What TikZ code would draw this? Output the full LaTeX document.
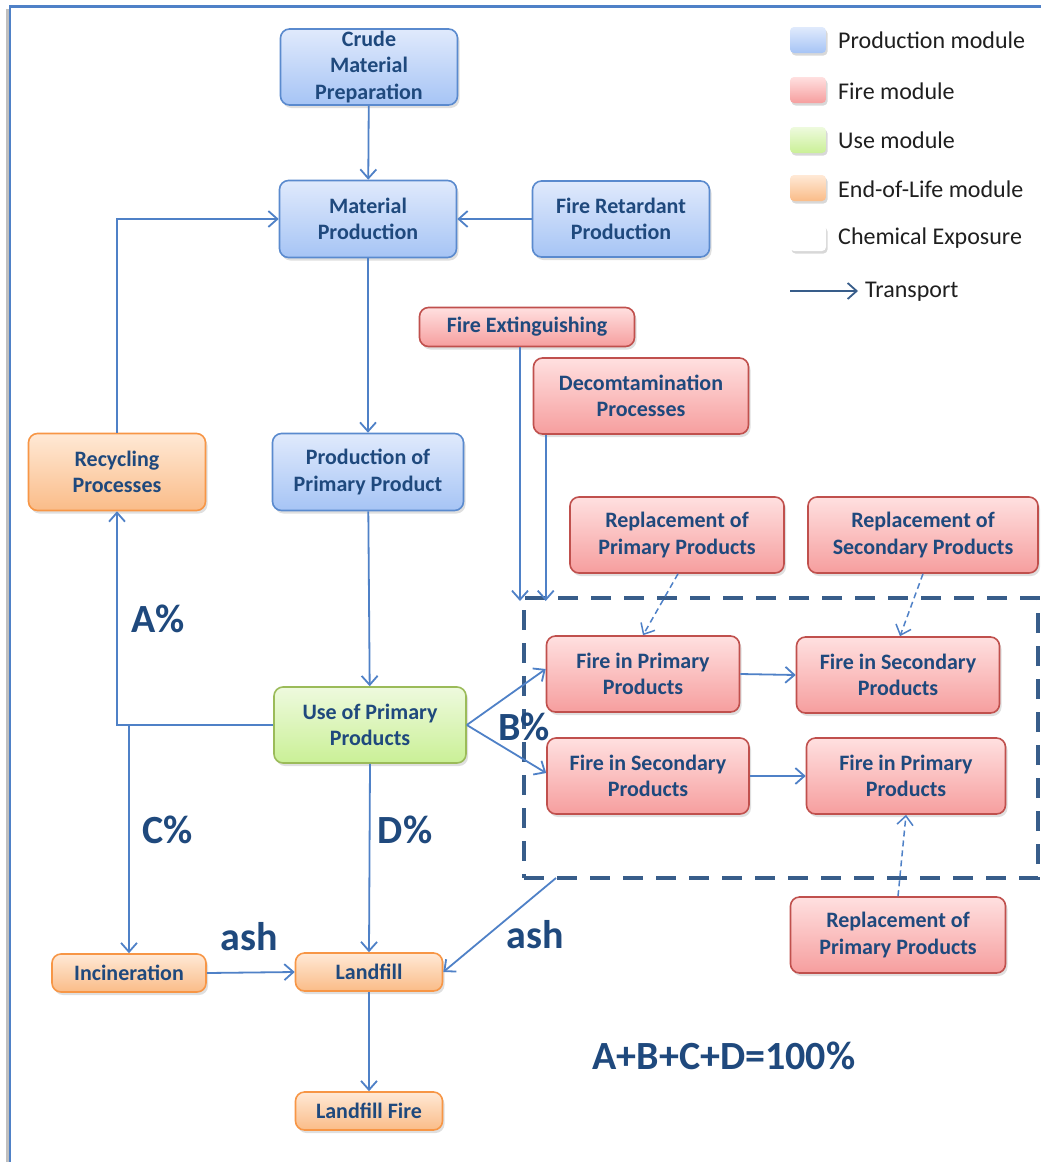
\documentclass[tikz,border=0pt]{standalone}
\usepackage{fontspec}
\setmainfont{Carlito}
\usetikzlibrary{arrows.meta,shadows}
\definecolor{txt}{RGB}{31,73,125}
\definecolor{arrc}{RGB}{79,129,199}
\definecolor{boxc}{RGB}{56,93,138}
\definecolor{prodT}{RGB}{224,234,252}
\definecolor{prodBt}{RGB}{166,196,245}
\definecolor{prodB}{RGB}{90,138,206}
\definecolor{fireT}{RGB}{255,224,224}
\definecolor{fireBt}{RGB}{246,158,158}
\definecolor{fireB}{RGB}{192,80,77}
\definecolor{useT}{RGB}{238,250,222}
\definecolor{useBt}{RGB}{202,240,150}
\definecolor{useB}{RGB}{155,187,89}
\definecolor{eolT}{RGB}{255,233,214}
\definecolor{eolBt}{RGB}{250,188,136}
\definecolor{eolB}{RGB}{247,150,70}
\definecolor{framec}{RGB}{79,129,199}
\tikzset{
  box/.style={rounded corners=9pt, draw, line width=1.6pt, align=center,
    font=\bfseries\fontsize{22}{26.5}\selectfont, text=txt, inner sep=0pt,
    drop shadow={opacity=0.25, shadow xshift=2pt, shadow yshift=-3pt}},
  prod/.style={box, draw=prodB, top color=prodT, bottom color=prodBt},
  fire/.style={box, draw=fireB, top color=fireT, bottom color=fireBt},
  usem/.style={box, draw=useB, top color=useT, bottom color=useBt},
  eol/.style={box, draw=eolB, top color=eolT, bottom color=eolBt},
  arr/.style={draw=arrc, line width=1.8pt, -{Straight Barb[length=9pt,width=16pt]}},
  darr/.style={arr, line width=1.5pt, dash pattern=on 6pt off 4pt},
  biglbl/.style={font=\bfseries\fontsize{40}{44}\selectfont, text=txt, inner sep=0pt},
  swatch/.style={rounded corners=4pt, minimum width=36pt, minimum height=26pt, inner sep=0pt,
    drop shadow={opacity=0.3, shadow xshift=1.5pt, shadow yshift=-2.5pt}},
  lgtext/.style={anchor=west, font=\fontsize{24}{28}\selectfont, text=black!88, inner sep=0pt},
  dbox/.style={draw=boxc, line width=4.5pt, dash pattern=on 20pt off 13pt, outer sep=0pt, inner sep=0pt}
}
\begin{document}
\begin{tikzpicture}[x=1pt,y=-1pt]
\useasboundingbox[fill=white] (0,0) rectangle (1041,1162);
% frame
\draw[black!25, line width=3pt] (7,1162) -- (7,9);
\draw[framec, line width=2.5pt] (10,1162) -- (10,6.5) -- (1041,6.5);

% nodes
\node[prod, minimum width=177, minimum height=76] (crude) at (369,67) {Crude\\Material\\Preparation};
\node[prod, minimum width=177, minimum height=77] (matprod) at (368,219) {Material\\Production};
\node[prod, minimum width=177, minimum height=76] (fret) at (621,219) {Fire Retardant\\Production};
\node[fire, minimum width=215, minimum height=39] (fext) at (527,327) {Fire Extinguishing};
\node[fire, minimum width=215, minimum height=76] (deco) at (641,396) {Decomtamination\\Processes};
\node[eol, minimum width=177, minimum height=77] (recyc) at (117,472) {Recycling\\Processes};
\node[prod, minimum width=191, minimum height=77] (ppp) at (368,472) {Production of\\Primary Product};
\node[fire, minimum width=214, minimum height=76] (rp1) at (677,535) {Replacement of\\Primary Products};
\node[fire, minimum width=230, minimum height=76] (rs) at (923,535) {Replacement of\\Secondary Products};

\node[dbox, minimum width=514, minimum height=280] (dash) at (781,738) {};

\node[fire, minimum width=193, minimum height=76] (fp1) at (643,674) {Fire in Primary\\Products};
\node[fire, minimum width=203, minimum height=76] (fs2) at (898,675) {Fire in Secondary\\Products};
\node[usem, minimum width=192, minimum height=76] (use) at (370,725) {Use of Primary\\Products};
\node[fire, minimum width=202, minimum height=76] (fs1) at (648,776) {Fire in Secondary\\Products};
\node[fire, minimum width=199, minimum height=76] (fp2) at (906,776) {Fire in Primary\\Products};
\node[fire, minimum width=215, minimum height=76] (rp2) at (898,935) {Replacement of\\Primary Products};
\node[eol, minimum width=154, minimum height=38] (incin) at (129,973) {Incineration};
\node[eol, minimum width=147, minimum height=38] (landfill) at (369,972) {Landfill};
\node[eol, minimum width=147, minimum height=38] (lfire) at (369,1111) {Landfill Fire};

% labels
\node[biglbl] (la) at (158,619) {A\%};
\node[biglbl] (lb) at (524,727) {B\%};
\node[biglbl] (lc) at (168,830) {C\%};
\node[biglbl] (ld) at (405,830) {D\%};
\node[biglbl] (lash1) at (249,937) {ash};
\node[biglbl] (lash2) at (535,935) {ash};
\node[biglbl] (lsum) at (724,1056) {A+B+C+D=100\%};

% connectors
\draw[arr] (crude) -- (matprod);
\draw[arr] (fret) -- (matprod);
\draw[arr] (matprod) -- (ppp);
\draw[arr] (ppp) -- (use);
\draw[arr] (use.west) -| (recyc.south);
\draw[arr] (recyc.north) |- (matprod.west);
\coordinate (cj) at (incin.north |- use.west);
\draw[arr] (cj) -- (incin.north);
\draw[arr] (use.south) -- (landfill.north);
\draw[arr] (incin.east) -- (landfill.west);
\draw[arr] (landfill.south) -- (lfire.north);
\draw[arr] (use.east) -- ([yshift=5pt]fp1.west);
\draw[arr] (use.east) -- ([yshift=3pt]fs1.west);
\draw[arr] (fp1.east) -- (fs2.west);
\draw[arr] (fs1.east) -- (fp2.west);
\coordinate (fe1) at ([xshift=-7pt]fext.south);
\draw[arr] (fe1) -- ([yshift=-3pt]fe1 |- dash.north);
\coordinate (de1) at ([xshift=13pt]deco.south west);
\draw[arr] (de1) -- ([yshift=-3pt]de1 |- dash.north);
\draw[darr] ([xshift=1pt]rp1.south) -- (fp1.north);
\draw[darr] (rs.south) -- ([xshift=2pt]fs2.north);
\draw[darr] (rp2.north) -- (fp2.south);
\coordinate (ds) at ([xshift=32pt]dash.south west);
\draw[arr] (ds) -- (landfill.east);

% legend
\node[swatch, top color=prodT, bottom color=prodBt] (s1) at (808,40) {};
\node[swatch, top color=fireT, bottom color=fireBt] (s2) at (808,90) {};
\node[swatch, top color=useT, bottom color=useBt] (s3) at (808,140) {};
\node[swatch, top color=eolT, bottom color=eolBt] (s4) at (808,188) {};
\node[swatch, fill=white] (s5) at (808,238) {};
\node[lgtext] (t1) at (838,40) {Production module};
\node[lgtext] (t2) at (838,91) {Fire module};
\node[lgtext] (t3) at (838,140) {Use module};
\node[lgtext] (t4) at (838,189) {End-of-Life module};
\node[lgtext] (t5) at (838,238) {Chemical Exposure};
\coordinate (ta) at (790,291);
\coordinate (tb) at (858,291);
\draw[arr, draw=boxc, line width=1.8pt] (ta) -- (tb);
\node[lgtext] (t6) at (865,292) {Transport};
\end{tikzpicture}
\end{document}
